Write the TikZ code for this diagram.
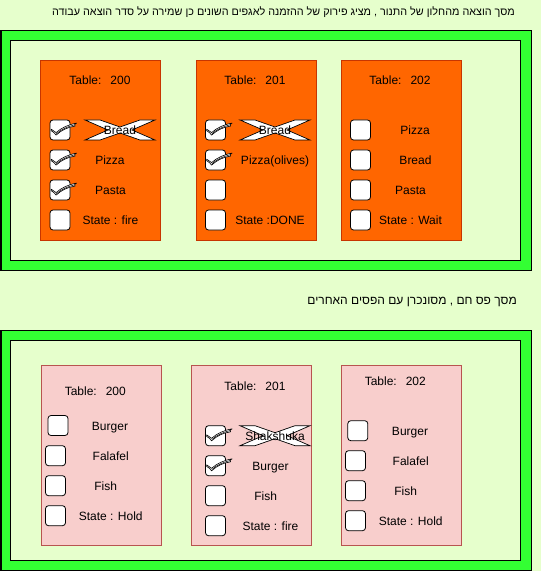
\documentclass[tikz,border=0pt]{standalone}
\usepackage{fontspec}
\setmainfont{Liberation Sans}
\newfontfamily\hebfont[Script=Hebrew]{Liberation Sans}
\TeXXeTstate=1
\definecolor{bgc}{HTML}{E6FFCC}
\definecolor{frgreen}{HTML}{33FF33}
\definecolor{orfill}{HTML}{FF6600}
\definecolor{orline}{HTML}{C73500}
\definecolor{pkfill}{HTML}{F8CECC}
\definecolor{pkline}{HTML}{B85450}
\tikzset{
  lbl/.style={font=\fontsize{12bp}{14bp}\selectfont, inner sep=0pt, text height=8.6bp, text depth=0pt, anchor=center},
  heb/.style={font=\hebfont\fontsize{12bp}{14bp}\selectfont, inner sep=0pt, anchor=base east},
  outerfr/.style={draw=black, line width=1bp, fill=frgreen, minimum width=530bp, minimum height=240bp, anchor=north west, inner sep=0pt},
  innerfr/.style={draw=black, line width=1bp, fill=bgc, minimum width=510bp, minimum height=220bp, anchor=north west, inner sep=0pt},
  ortable/.style={draw=orline, line width=0.8bp, fill=orfill, minimum width=120bp, minimum height=180bp, anchor=north west, inner sep=0pt},
  pktable/.style={draw=pkline, line width=0.8bp, fill=pkfill, minimum width=120bp, minimum height=180bp, anchor=north west, inner sep=0pt},
  cbox/.style={draw=black, line width=0.8bp, fill=white, rounded corners=3bp, minimum width=20bp, minimum height=20bp, inner sep=0pt},
  checkmark/.pic={
    \draw[fill=white, line width=0.6bp, line join=round]
      (1.5,9.5) .. controls (4,10.5) .. (6.5,13)
      .. controls (12,8) and (19,5) .. (27,3.5)
      .. controls (24.5,5) .. (25.5,6.5)
      .. controls (18,7.5) and (12,10.5) .. (6.5,15.5)
      .. controls (5,13.5) .. (1.5,11) -- cycle;
    \draw[line width=0.5bp] (6.8,14.2) .. controls (12,9.5) and (18,7) .. (25,5.2);
  },
  crossx/.pic={
    \draw[fill=white, line width=0.7bp, line join=miter]
      (0,0) -- (15,0) -- (35,7) -- (55,0) -- (70,0) -- (47,10) -- (70,20)
      -- (55,20) -- (35,13) -- (15,20) -- (0,20) -- (23,10) -- cycle;
  }
}
\begin{document}
\begin{tikzpicture}[x=1bp,y=-1bp]
\useasboundingbox[fill=bgc] (0,0) rectangle (541,571);

% headings
\node[heb, font=\hebfont\fontsize{10.8bp}{13bp}\selectfont] (head1) at (515,16) {\beginR מסך הוצאה מהחלון של התנור , מציג פירוק של ההזמנה לאגפים השונים כן שמירה על סדר הוצאה עבודה\endR};
\node[heb] (head2) at (517,304.7) {\beginR מסך פס חם , מסונכרן עם הפסים האחרים\endR};

% ===== top frame =====
\node[outerfr] (topout) at (0.5,30) {};
\node[innerfr] (topin) at (10,40) {};

% top table 200
\node[ortable] (ta) at (40,60) {};
\node[lbl] (taT) at (100,80.5) {Table:\hspace{9bp}200};
\node[cbox] (taB1) at (60,130) {};
\node[cbox] (taB2) at (60,160) {};
\node[cbox] (taB3) at (60,190) {};
\node[cbox] (taB4) at (60,220) {};
\pic at (taB1.north west) {checkmark};
\pic at (taB2.north west) {checkmark};
\pic at (taB3.north west) {checkmark};
\pic at (85,120) {crossx};
\node[lbl] (taI1) at (120,130) {Bread};
\node[lbl] (taI2) at (110,160) {Pizza};
\node[lbl] (taI3) at (110.5,190) {Pasta};
\node[lbl] (taI4) at (110.5,220) {State : fire};

% top table 201
\node[ortable] (tb) at (195.5,60) {};
\node[lbl] (tbT) at (255,80.5) {Table:\hspace{9bp}201};
\node[cbox] (tbB1) at (215.5,130) {};
\node[cbox] (tbB2) at (215.5,160) {};
\node[cbox] (tbB3) at (215.5,190) {};
\node[cbox] (tbB4) at (215.5,220) {};
\pic at (tbB1.north west) {checkmark};
\pic at (tbB2.north west) {checkmark};
\pic at (240,120) {crossx};
\node[lbl] (tbI1) at (275,130) {Bread};
\node[lbl] (tbI2) at (275,160) {Pizza(olives)};
\node[lbl] (tbI4) at (270,220) {State :DONE};

% top table 202
\node[ortable] (tc) at (340.5,60) {};
\node[lbl] (tcT) at (400,80.5) {Table:\hspace{9bp}202};
\node[cbox] (tcB1) at (360.5,130) {};
\node[cbox] (tcB2) at (360.5,160) {};
\node[cbox] (tcB3) at (360.5,190) {};
\node[cbox] (tcB4) at (360.5,220) {};
\node[lbl] (tcI1) at (415,130) {Pizza};
\node[lbl] (tcI2) at (415.5,160) {Bread};
\node[lbl] (tcI3) at (410.5,190) {Pasta};
\node[lbl] (tcI4) at (410.5,220) {State : Wait};

% ===== bottom frame =====
\node[outerfr] (botout) at (0.5,330) {};
\node[innerfr] (botin) at (10,340) {};

% bottom table 200
\node[pktable] (pa) at (40.5,365) {};
\node[lbl] (paT) at (95.3,390.7) {Table:\hspace{9bp}200};
\node[cbox] (paB1) at (58,425.5) {};
\node[cbox] (paB2) at (55.5,455.7) {};
\node[cbox] (paB3) at (55.5,485.7) {};
\node[cbox] (paB4) at (55.5,515.7) {};
\node[lbl] (paI1) at (110,425.7) {Burger};
\node[lbl] (paI2) at (110.7,455.7) {Falafel};
\node[lbl] (paI3) at (105.7,485.7) {Fish};
\node[lbl] (paI4) at (110.7,515.7) {State : Hold};

% bottom table 201
\node[pktable] (pb) at (190.5,365) {};
\node[lbl] (pbT) at (255,385.7) {Table:\hspace{9bp}201};
\node[cbox] (pbB1) at (215.5,435.7) {};
\node[cbox] (pbB2) at (215.5,465.7) {};
\node[cbox] (pbB3) at (215.5,495.7) {};
\node[cbox] (pbB4) at (215.5,525.7) {};
\pic at (pbB1.north west) {checkmark};
\pic at (pbB2.north west) {checkmark};
\pic at (240,425.7) {crossx};
\node[lbl] (pbI1) at (275,435.7) {Shakshuka};
\node[lbl] (pbI2) at (270.5,465.7) {Burger};
\node[lbl] (pbI3) at (265.7,495.7) {Fish};
\node[lbl] (pbI4) at (270.5,525.7) {State : fire};

% bottom table 202
\node[pktable] (pc) at (340.5,365) {};
\node[lbl] (pcT) at (395.3,380.7) {Table:\hspace{9bp}202};
\node[cbox] (pcB1) at (357.8,430.7) {};
\node[cbox] (pcB2) at (355.5,460.7) {};
\node[cbox] (pcB3) at (355.5,490.7) {};
\node[cbox] (pcB4) at (355.5,520.7) {};
\node[lbl] (pcI1) at (410,430.7) {Burger};
\node[lbl] (pcI2) at (410.7,460.7) {Falafel};
\node[lbl] (pcI3) at (405.7,490.7) {Fish};
\node[lbl] (pcI4) at (410.7,520.7) {State : Hold};
\end{tikzpicture}
\end{document}
